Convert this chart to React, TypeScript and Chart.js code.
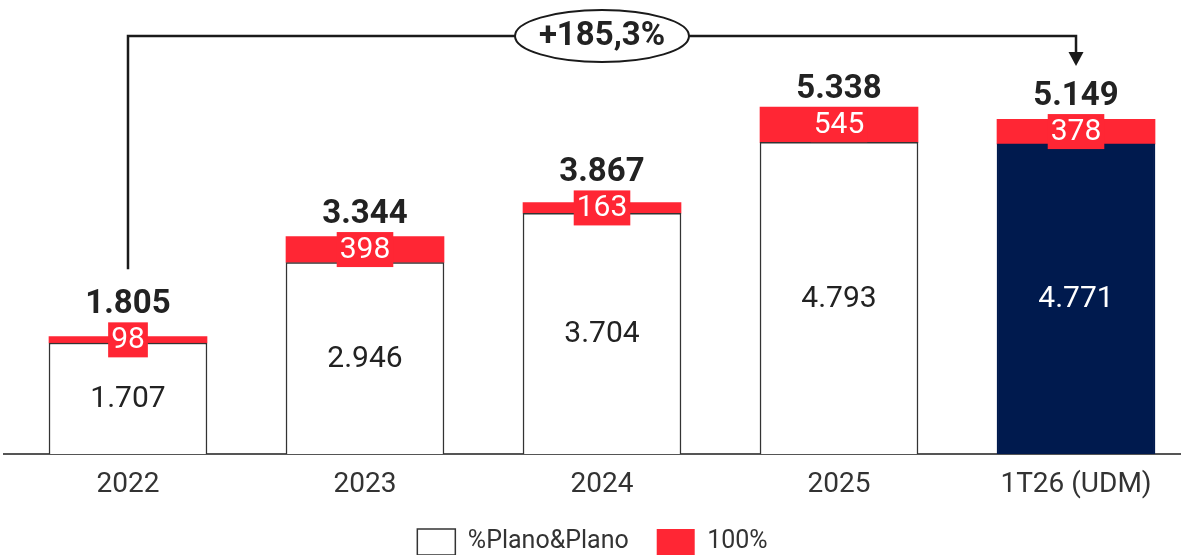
import React, { useEffect, useRef } from "react";
import { Chart, registerables } from "chart.js";

Chart.register(...registerables);

const categories = ["2022", "2023", "2024", "2025", "1T26 (UDM)"];
const planoValues = [1707, 2946, 3704, 4793, 4771];
const fullValues = [98, 398, 163, 545, 378];
const totals = [1805, 3344, 3867, 5338, 5149];
const growthLabel = "+185,3%";
const seriesNames = ["%Plano&Plano", "100%"];

const RED = "#ff2634";
const NAVY = "#001a4e";
const WHITE = "#ffffff";
const BORDER = "#333333";
const TEXT = "#222222";
const FONT = "Roboto, 'Noto Sans', sans-serif";

const fmt = (n: number) => String(n).replace(/\B(?=(\d{3})+(?!\d))/g, ".");

const labelsPlugin = {
  id: "customLabels",
  afterDatasetsDraw(chart: any) {
    const ctx = chart.ctx as CanvasRenderingContext2D;
    const m0 = chart.getDatasetMeta(0);
    const m1 = chart.getDatasetMeta(1);
    const totalBaselines: number[] = [];
    ctx.save();
    categories.forEach((_, i) => {
      const w = m0.data[i];
      const r = m1.data[i];
      ctx.font = `400 30px ${FONT}`;
      ctx.textAlign = "center";
      ctx.textBaseline = "middle";
      ctx.fillStyle = i === categories.length - 1 ? "#ffffff" : TEXT;
      ctx.fillText(fmt(planoValues[i]), w.x, (w.y + w.base) / 2 + 1);

      const segTop = r.y;
      const segBot = r.base;
      const cy = (segTop + segBot) / 2;
      const t = fmt(fullValues[i]);
      const tw = ctx.measureText(t).width;
      const bw = tw + 6;
      const bh = 35;
      ctx.fillStyle = RED;
      ctx.fillRect(r.x - bw / 2, cy - bh / 2, bw, bh);
      ctx.fillStyle = "#ffffff";
      ctx.fillText(t, r.x, cy + 1);

      const top = Math.min(segTop, cy - bh / 2);
      const base = top - 9;
      totalBaselines.push(base);
      ctx.font = `700 33px ${FONT}`;
      ctx.textBaseline = "alphabetic";
      ctx.fillStyle = TEXT;
      ctx.fillText(fmt(totals[i]), r.x, base);
    });

    const last = categories.length - 1;
    const x0 = m0.data[0].x;
    const x1 = m0.data[last].x;
    const lineY = chart.chartArea.top + 36;
    ctx.strokeStyle = "#1a1a1a";
    ctx.lineWidth = 2.5;
    ctx.beginPath();
    ctx.moveTo(x0, totalBaselines[0] - 44);
    ctx.lineTo(x0, lineY);
    ctx.lineTo(x1, lineY);
    ctx.lineTo(x1, lineY + 17);
    ctx.stroke();
    ctx.fillStyle = "#1a1a1a";
    ctx.beginPath();
    ctx.moveTo(x1 - 7.5, lineY + 16);
    ctx.lineTo(x1 + 7.5, lineY + 16);
    ctx.lineTo(x1, lineY + 30);
    ctx.closePath();
    ctx.fill();

    const cx = (x0 + x1) / 2;
    ctx.beginPath();
    ctx.ellipse(cx, lineY, 87, 26, 0, 0, Math.PI * 2);
    ctx.fillStyle = "#ffffff";
    ctx.fill();
    ctx.lineWidth = 2;
    ctx.stroke();
    ctx.font = `700 33px ${FONT}`;
    ctx.fillStyle = TEXT;
    ctx.textAlign = "center";
    ctx.textBaseline = "middle";
    ctx.fillText(growthLabel, cx, lineY + 1);
    ctx.restore();
  },
};

export default function App() {
  const ref = useRef<HTMLCanvasElement | null>(null);

  useEffect(() => {
    if (!ref.current) return;
    const last = categories.length - 1;
    const chart = new Chart(ref.current, {
      type: "bar",
      data: {
        datasets: [
          {
            label: seriesNames[0],
            data: planoValues.map((v, i) => ({ x: i, y: v })),
            backgroundColor: (c: any) => (c.dataIndex === last ? NAVY : WHITE),
            borderColor: (c: any) => (c.dataIndex === last ? NAVY : BORDER),
            borderWidth: 1.5,
            barThickness: 158,
          },
          {
            label: seriesNames[1],
            data: fullValues.map((v, i) => ({ x: i, y: v })),
            backgroundColor: RED,
            borderWidth: 0,
            barThickness: 158,
          },
        ],
      },
      options: {
        animation: false,
        responsive: true,
        maintainAspectRatio: false,
        layout: { padding: { left: 4, right: 0, top: 0, bottom: 0 } },
        plugins: {
          tooltip: { enabled: false },
          legend: {
            position: "bottom",
            labels: {
              boxWidth: 38,
              boxHeight: 26,
              padding: 28,
              color: "#333333",
              font: { family: FONT, size: 25 },
            },
          },
        },
        scales: {
          x: {
            type: "linear",
            stacked: true,
            offset: false,
            min: -0.5232,
            max: 4.443,
            grid: { display: false, drawTicks: false },
            border: { display: true, color: "#555555", width: 2 },
            afterBuildTicks: (scale: any) => {
              scale.ticks = categories.map((_, i) => ({ value: i }));
            },
            afterFit: (scale: any) => {
              scale.height = 47;
            },
            ticks: {
              padding: 14,
              color: "#333333",
              font: { family: FONT, size: 28 },
              autoSkip: false,
              maxRotation: 0,
              callback: (v: any) => categories[v] ?? "",
            },
          },
          y: {
            stacked: true,
            display: false,
            min: 0,
            max: 6984,
          },
        },
      },
      plugins: [labelsPlugin],
    });
    return () => chart.destroy();
  }, []);

  return (
    <div style={{ position: "absolute", left: 0, top: 0, width: 1181, height: 555, overflow: "hidden", background: "#fff" }}>
      <div style={{ position: "relative", width: 1181, height: 565 }}>
        <canvas ref={ref} />
      </div>
    </div>
  );
}
